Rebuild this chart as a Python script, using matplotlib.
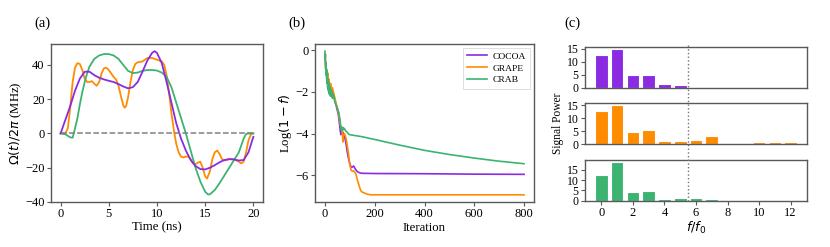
import matplotlib
matplotlib.use("Agg")
import matplotlib.pyplot as plt
from matplotlib.lines import Line2D
from matplotlib.transforms import blended_transform_factory

plt.rcParams['font.family'] = ['Liberation Serif', 'DejaVu Serif']
plt.rcParams['mathtext.fontset'] = 'dejavusans'

C_PURPLE = '#8A2BE2'
C_ORANGE = '#FF8C00'
C_GREEN = '#3CB371'

# ---------------- panel (a): pulses ----------------
t_cocoa = [0, 0.5, 1, 1.5, 2, 2.5, 3, 3.5, 4, 4.5, 5, 5.5, 6, 6.5, 7, 7.5, 8, 8.5, 9,
           9.5, 9.75, 10, 10.5, 11, 11.5, 12, 12.5, 13, 13.5, 14, 14.5, 15, 15.5, 16,
           16.5, 17, 17.5, 18, 18.5, 19, 19.5, 20]
cocoa_pulse = [0, 8, 16, 25, 32, 36, 36, 34, 32.5, 31.5, 30.7, 30, 28.8, 27.4, 26.3, 27,
               30, 36, 42.5, 47, 48, 47, 41, 30, 18, 6, -3, -10, -15.5, -19, -20.8, -21,
               -20, -18.5, -16.8, -15.5, -15, -15.2, -15.8, -15.5, -11, -2]

t_grape = [0, 0.5, 0.75, 1.0, 1.25, 1.5, 1.75, 2.0, 2.25, 2.5, 2.75, 3.0, 3.25, 3.5, 3.75,
           4.0, 4.25, 4.5, 4.75, 5.0, 5.25, 5.5, 5.75, 6.0, 6.25, 6.5, 6.65, 6.8, 7.0,
           7.25, 7.5, 7.75, 8.0, 8.5, 9.0, 9.5, 10.0, 10.5, 10.75, 11.0, 11.25, 11.5,
           11.75, 12.0, 12.25, 12.5, 12.75, 13.0, 13.25, 13.5, 13.75, 14.0, 14.25, 14.5,
           14.75, 15.0, 15.2, 15.5, 15.75, 16.0, 16.25, 16.5, 16.75, 17.0, 17.5, 18.0,
           18.5, 18.75, 19.0, 19.25, 19.5, 19.75, 20]
grape_pulse = [0, 0, 3, 15, 30, 38.5, 41, 40.5, 37, 32, 30, 30, 30.5, 29, 27.8, 30, 35,
               38, 38.3, 37, 35, 33, 31.5, 28, 22, 16.5, 15, 16, 21, 30, 37, 40.5, 41.5,
               42, 44, 44, 43, 42, 40, 34, 24, 12, 2, -6, -11, -13.5, -14, -13.5, -13.5,
               -15, -17.5, -18, -17, -16.5, -20, -25, -26.3, -22, -15, -11, -10, -12, -15,
               -15.8, -15, -15, -16.5, -17.5, -16.5, -11, -4, -0.5, 0]

t_crab = [0, 0.5, 1.0, 1.25, 1.5, 1.75, 2.0, 2.25, 2.5, 2.75, 3.0, 3.5, 4.0, 4.5, 5.0,
          5.5, 6.0, 6.5, 7.0, 7.5, 8.0, 8.5, 9.0, 9.5, 10.0, 10.5, 11.0, 11.5, 12.0,
          12.5, 13.0, 13.5, 14.0, 14.5, 15.0, 15.3, 15.5, 16.0, 16.5, 17.0, 17.5, 18.0,
          18.5, 19.0, 19.25, 19.5, 20]
crab_pulse = [0, -0.5, -2.3, -2.5, 3, 9, 17, 24, 30, 35, 39, 43.5, 45.5, 46.3, 46.3,
              45.5, 43.5, 40, 36.5, 35.2, 35.5, 36.5, 37, 37, 36.7, 35.5, 33, 27, 18, 9,
              0, -10, -20, -28, -34, -35.6, -35.5, -33, -29, -24.5, -20, -15.5, -11, -3,
              -0.3, 0, 0]

# ---------------- panel (b): convergence ----------------
it_cocoa = [0, 2, 4, 6, 8, 10, 12, 14, 16, 18, 20, 23, 26, 30, 34, 38, 42, 46, 50, 54, 58,
            62, 64, 66, 70, 75, 80, 85, 90, 95, 100, 105, 110, 115, 120, 125, 130, 140,
            150, 200, 400, 600, 800]
log_cocoa = [-0.3, -0.6, -0.9, -1.1, -1.3, -1.2, -1.5, -1.4, -1.7, -1.6, -1.8, -1.75,
             -1.9, -2.0, -2.1, -2.3, -2.5, -2.7, -2.9, -3.1, -3.5, -3.9, -4.05, -3.9, -3.9,
             -4.0, -4.2, -4.5, -4.9, -5.2, -5.45, -5.6, -5.6, -5.55, -5.65, -5.75, -5.82,
             -5.88, -5.9, -5.91, -5.92, -5.94, -5.95]

it_grape = [0, 2, 4, 6, 8, 10, 12, 14, 16, 18, 20, 23, 26, 30, 34, 38, 42, 46, 50, 54, 58,
            62, 66, 70, 72, 74, 78, 82, 86, 90, 95, 100, 105, 110, 115, 120, 125, 130,
            135, 140, 145, 150, 160, 170, 185, 300, 800]
log_grape = [-0.2, -0.7, -1.0, -0.9, -1.2, -1.3, -1.1, -1.5, -1.4, -1.6, -1.7, -1.6,
             -1.85, -1.8, -2.0, -2.2, -2.4, -2.6, -2.8, -3.0, -3.3, -3.6, -3.7, -4.0, -4.4,
             -4.1, -4.0, -4.1, -4.3, -4.6, -5.0, -5.5, -5.75, -5.8, -5.78, -5.85, -5.95,
             -6.2, -6.4, -6.6, -6.75, -6.8, -6.85, -6.9, -6.93, -6.93, -6.93]

it_crab = [0, 1, 2, 3, 4, 5, 6, 7, 8, 9, 10, 11, 12, 13, 14, 15, 16, 17, 18, 19, 20, 22,
           24, 26, 28, 30, 32, 34, 36, 38, 40, 44, 48, 52, 56, 60, 63, 66, 68, 70, 72, 75,
           78, 82, 86, 90, 95, 100, 150, 200, 300, 400, 500, 600, 700, 800]
log_crab = [-0.05, -0.4, -0.2, -0.9, -0.6, -1.2, -0.9, -1.4, -1.0, -1.6, -1.3, -1.8, -1.4,
            -1.9, -1.5, -2.0, -1.6, -2.1, -1.7, -2.1, -1.8, -2.2, -1.9, -2.2, -2.0, -2.3,
            -2.1, -2.3, -2.2, -2.4, -2.5, -2.6, -2.7, -2.85, -3.0, -3.3, -3.6, -3.8, -3.7,
            -3.85, -3.7, -3.8, -3.75, -3.85, -3.9, -3.95, -4.02, -4.05, -4.15, -4.28,
            -4.55, -4.8, -5.0, -5.17, -5.32, -5.44]

# ---------------- panel (c): spectra ----------------
freq_cocoa = [0, 1, 2, 3, 4, 5]
power_cocoa = [12.7, 15.0, 5.0, 4.8, 1.3, 1.1]
freq_grape = [0, 1, 2, 3, 4, 5, 6, 7, 8, 9, 10, 11, 12]
power_grape = [12.8, 15.2, 4.7, 5.3, 1.2, 1.1, 1.5, 3.0, 0.4, 0.4, 0.95, 0.7, 0.8]
freq_crab = [0, 1, 2, 3, 4, 5, 6, 7, 8]
power_crab = [12.5, 18.8, 4.2, 4.8, 0.8, 1.2, 1.2, 0.6, 0.4]
cutoff = 5.5

TICK_FS = 9
TICK_FS_C = 8.5
LABEL_FS = 9.2
SPINE_C = '0.35'

fig = plt.figure(figsize=(8.3, 2.47), dpi=100)


def style(ax, fs=TICK_FS):
    for s in ax.spines.values():
        s.set_color(SPINE_C)
        s.set_linewidth(1.0)
    ax.tick_params(labelsize=fs, color=SPINE_C, length=3, width=0.8, pad=1.5)


# (a)
axa = fig.add_axes([0.0614, 0.1822, 0.2554, 0.6397])
axa.plot(t_grape, grape_pulse, color=C_ORANGE, lw=1.3)
axa.plot(t_crab, crab_pulse, color=C_GREEN, lw=1.3)
axa.plot(t_cocoa, cocoa_pulse, color=C_PURPLE, lw=1.3)
axa.plot([0, 20], [0, 0], color='0.5', ls='--', lw=1.1)
axa.set_xticks([0, 5, 10, 15, 20])
axa.set_yticks([-40, -20, 0, 20, 40])
axa.set_xlabel('Time (ns)', fontsize=LABEL_FS, labelpad=1)
axa.set_ylabel(r'$\Omega(t)/2\pi$ (MHz)', fontsize=LABEL_FS, labelpad=1)
style(axa)

# (b)
axb = fig.add_axes([0.3795, 0.1822, 0.2639, 0.6397])
axb.plot(it_cocoa, log_cocoa, color=C_PURPLE, lw=1.2, label='COCOA')
axb.plot(it_grape, log_grape, color=C_ORANGE, lw=1.2, label='GRAPE')
axb.plot(it_crab, log_crab, color=C_GREEN, lw=1.2, label='CRAB')
axb.set_xticks([0, 200, 400, 600, 800])
axb.set_yticks([0, -2, -4, -6])
axb.set_xlabel('Iteration', fontsize=LABEL_FS, labelpad=1)
axb.set_ylabel(r'Log$(1-f)$', fontsize=LABEL_FS, labelpad=1)
leg = axb.legend(loc='upper right', fontsize=6.8, handlelength=2.1, handletextpad=0.6,
                 borderpad=0.45, labelspacing=0.35, fancybox=False, framealpha=1,
                 borderaxespad=0.4)
leg.get_frame().set_edgecolor('0.85')
leg.get_frame().set_linewidth(0.6)
style(axb)

# (c)
axc1 = fig.add_axes([0.7048, 0.645, 0.2675, 0.166])
axc2 = fig.add_axes([0.7048, 0.417, 0.2675, 0.166], sharex=axc1)
axc3 = fig.add_axes([0.7048, 0.1875, 0.2675, 0.1648], sharex=axc1)
for ax, f, p, c in [(axc1, freq_cocoa, power_cocoa, C_PURPLE),
                    (axc2, freq_grape, power_grape, C_ORANGE),
                    (axc3, freq_crab, power_crab, C_GREEN)]:
    ax.bar(f, p, width=0.8, color=c, edgecolor='white', linewidth=0.8)
    ax.set_yticks([0, 5, 10, 15])
    style(ax, TICK_FS_C)
for ax in (axc1, axc2):
    ax.tick_params(bottom=False, labelbottom=False)
axc1.set_xlim(-1.04, 13.04)
axc3.set_xticks([0, 2, 4, 6, 8, 10, 12])
axc3.tick_params(axis='x', labelsize=TICK_FS)
axc3.set_xlabel(r'$f/f_0$', fontsize=LABEL_FS, labelpad=1)
axc2.set_ylabel('Signal Power', fontsize=8.3, labelpad=2)

tr = blended_transform_factory(axc3.transData, fig.transFigure)
fig.add_artist(Line2D([cutoff, cutoff], [0.1875, 0.825], transform=tr,
                      color='0.45', ls=':', lw=1.0))

# panel labels
fig.text(0.041, 0.905, '(a)', fontsize=10.5, ha='left', va='center')
fig.text(0.348, 0.905, '(b)', fontsize=10.5, ha='left', va='center')
fig.text(0.680, 0.905, '(c)', fontsize=10.5, ha='left', va='center')

fig.savefig('out.png', dpi=100)
